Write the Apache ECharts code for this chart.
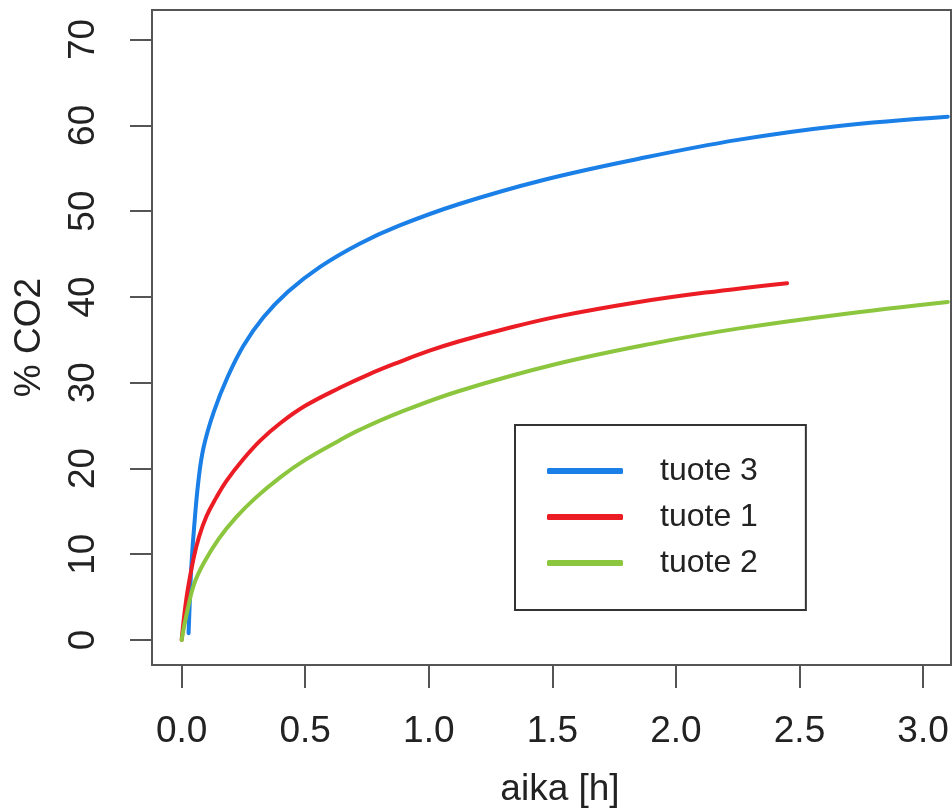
<!DOCTYPE html>
<html>
<head>
<meta charset="utf-8">
<script src="https://cdn.jsdelivr.net/npm/echarts@6/dist/echarts.min.js"></script>
<style>
  html, body { margin: 0; padding: 0; background: #fff; }
  #chart { width: 952px; height: 810px; }
</style>
</head>
<body>
<div id="chart"></div>
<script>
const chart = echarts.init(document.getElementById("chart"));

// ==========================
// DATA
// ==========================

const t3Time = [0.028, 0.035, 0.04, 0.05, 0.068, 0.089, 0.13, 0.185, 0.25, 0.33, 0.43, 0.56, 0.72, 0.88, 1.12, 1.46, 1.85, 2.25, 2.65, 3.1];
const t3Co2  = [0.8, 6, 9.0, 13, 18.6, 22.5, 26.6, 30.6, 34.3, 37.6, 40.6, 43.5, 46.2, 48.3, 50.8, 53.6, 56.1, 58.3, 59.9, 61.0];

const t1Time = [0, 0.02, 0.048, 0.07, 0.1, 0.14, 0.18, 0.25, 0.32, 0.4, 0.5, 0.64, 0.76, 0.88, 1.0, 1.12, 1.3, 1.52, 1.85, 2.12, 2.45];
const t1Co2  = [0, 5, 9.5, 12, 14.4, 16.6, 18.5, 21.1, 23.3, 25.3, 27.3, 29.4, 31.0, 32.4, 33.7, 34.8, 36.2, 37.7, 39.4, 40.5, 41.6];

const t2Time = [0, 0.02, 0.05, 0.09, 0.15, 0.22, 0.3, 0.4, 0.5, 0.64, 0.72, 0.88, 1.12, 1.52, 1.93, 2.25, 2.65, 3.1];
const t2Co2  = [0, 3, 6.5, 9.0, 11.8, 14.3, 16.6, 19.0, 21.0, 23.3, 24.5, 26.5, 29.0, 32.2, 34.7, 36.3, 37.9, 39.4];

const xTicks = [0, 0.5, 1.0, 1.5, 2.0, 2.5, 3.0];
const yTicks = [0, 10, 20, 30, 40, 50, 60, 70];

const zip = (xs, ys) => xs.map((x, i) => [x, ys[i]]);

const FONT = "Liberation Sans";
const AXIS_COLOR = "#555";
const TEXT_COLOR = "#222";

function makeSeries(name, xs, ys, color) {
  return {
    name: name,
    type: "line",
    data: zip(xs, ys),
    smooth: 0.4,
    showSymbol: false,
    symbol: "none",
    color: color,
    lineStyle: { width: 4, color: color, cap: "round", join: "round" }
  };
}

chart.setOption({
  animation: false,
  backgroundColor: "#fff",

  grid: {
    left: 152,
    right: 1,
    top: 10,
    bottom: 145,
    outerBoundsMode: "none",
    show: true,
    borderColor: AXIS_COLOR,
    borderWidth: 2,
    backgroundColor: "transparent"
  },

  xAxis: {
    type: "value",
    min: -0.12,
    max: 3.113,
    name: "aika [h]",
    nameLocation: "middle",
    nameGap: 106,
    nameTextStyle: { fontFamily: FONT, fontSize: 37, color: TEXT_COLOR, padding: [0, 0, 0, 17] },
    splitLine: { show: false },
    axisLine: { show: true, onZero: false, lineStyle: { color: AXIS_COLOR, width: 2 } },
    axisTick: {
      show: true,
      length: 23,
      customValues: xTicks,
      lineStyle: { color: AXIS_COLOR, width: 2 }
    },
    axisLabel: {
      customValues: xTicks,
      margin: 48,
      fontFamily: FONT,
      fontSize: 37,
      color: TEXT_COLOR,
      formatter: v => v.toFixed(1)
    }
  },

  yAxis: {
    type: "value",
    min: -2.91,
    max: 73.44,
    name: "% CO2",
    nameLocation: "middle",
    nameGap: 104,
    nameRotate: 90,
    nameTextStyle: { fontFamily: FONT, fontSize: 37, color: TEXT_COLOR },
    splitLine: { show: false },
    axisLine: { show: true, onZero: false, lineStyle: { color: AXIS_COLOR, width: 2 } },
    axisTick: {
      show: true,
      length: 22,
      customValues: yTicks,
      lineStyle: { color: AXIS_COLOR, width: 2 }
    },
    axisLabel: {
      customValues: yTicks,
      rotate: 90,
      margin: 50,
      fontFamily: FONT,
      fontSize: 37,
      color: TEXT_COLOR
    }
  },

  legend: {
    data: ["tuote 3", "tuote 1", "tuote 2"],
    orient: "vertical",
    left: 515,
    top: 425,
    padding: [28, 48, 29, 32],
    itemWidth: 76,
    itemHeight: 6,
    itemGap: 10,
    icon: "roundRect",
    borderColor: "#333",
    borderWidth: 2,
    backgroundColor: "#fff",
    textStyle: {
      fontFamily: FONT,
      fontSize: 32,
      color: TEXT_COLOR,
      lineHeight: 36,
      padding: [0, 0, 0, 32]
    }
  },

  series: [
    makeSeries("tuote 3", t3Time, t3Co2, "#1a7fe6"),
    makeSeries("tuote 1", t1Time, t1Co2, "#ec1c24"),
    makeSeries("tuote 2", t2Time, t2Co2, "#8cc63e")
  ]
});
</script>
</body>
</html>
